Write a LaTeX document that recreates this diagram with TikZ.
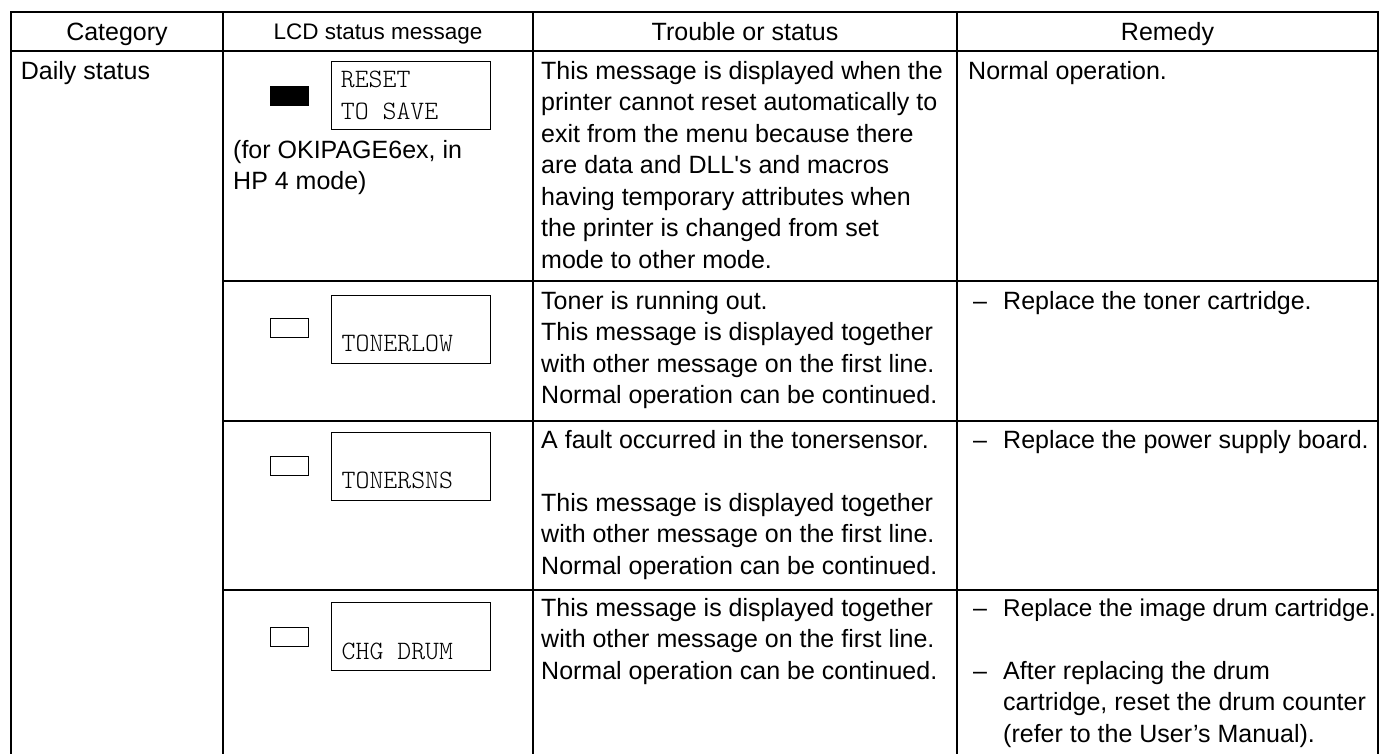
\documentclass[tikz,border=0pt]{standalone}
\usepackage{fontspec}
\setmainfont{Liberation Sans}
\newfontfamily\lcdfont{Latin Modern Mono Light}
\begin{document}
\begin{tikzpicture}[x=1pt,y=-1pt,
  grid/.style={line width=1.3pt},
  frame/.style={line width=2.6pt},
  txt/.style={anchor=north west, inner sep=0pt, align=left, font=\fontsize{25pt}{31.5pt}\selectfont},
  head/.style={anchor=base, inner sep=0pt, font=\fontsize{25pt}{30pt}\selectfont},
  smallhead/.style={anchor=base, inner sep=0pt, font=\fontsize{22.5pt}{27pt}\selectfont},
  mono/.style={anchor=base west, inner sep=0pt, font=\fontsize{26.5pt}{30pt}\selectfont\lcdfont},
  lcdbox/.style={draw, line width=1.3pt, minimum width=159pt, minimum height=68pt, inner sep=0pt, anchor=north west},
  led/.style={draw, line width=1.3pt, minimum width=38pt, minimum height=19pt, inner sep=0pt, anchor=north west},
]
\useasboundingbox (0,0) rectangle (1382,753);

% table rules
\draw[grid] (11,51) -- (1378,51);
\draw[grid] (223,12) -- (223,760);
\draw[grid] (533,12) -- (533,760);
\draw[grid] (957,12) -- (957,760);
\draw[grid] (223,281) -- (1378,281);
\draw[grid] (223,421) -- (1378,421);
\draw[grid] (223,590) -- (1378,590);
\draw[frame] (11,760) -- (11,12) -- (1378,12) -- (1378,760);

% header
\node[head] (hcat) at (117,40.5) {Category};
\node[smallhead] (hlcd) at (378,39.8) {LCD status message};
\node[head] (htr) at (745,40.5) {Trouble or status};
\node[head] (hrem) at (1167.5,40.5) {Remedy};

% category
\node[txt] (cat) at (20.7,56.95) {\strut Daily status};

% row 1
\node[led, fill=black] (led1) at (270,86) {};
\node[lcdbox] (box1) at (331,61) {};
\node[mono] (m1a) at (340.7,87.7) {RESET};
\node[mono] (m1b) at (340.7,119) {TO SAVE};
\node[txt] (lcd1) at (233,135.95) {\strut (for OKIPAGE6ex, in\\ \strut HP 4 mode)};
\node[txt] (tr1) at (541,56.95) {\strut This message is displayed when the\\
\strut printer cannot reset automatically to\\
\strut exit from the menu because there\\
\strut are data and DLL\textquotesingle s and macros\\
\strut having temporary attributes when\\
\strut the printer is changed from set\\
\strut mode to other mode.};
\node[txt] (rem1) at (968,56.95) {\strut Normal operation.};

% row 2
\node[led] (led2) at (270,318) {};
\node[lcdbox] (box2) at (331,295) {};
\node[mono] (m2) at (341.5,351) {TONERLOW};
\node[txt] (tr2) at (541,286.95) {\strut Toner is running out.\\
\strut This message is displayed together\\
\strut with other message on the first line.\\
\strut Normal operation can be continued.};
\node[txt] (d2) at (973,286.95) {\strut –};
\node[txt] (rem2) at (1003,286.95) {\strut Replace the toner cartridge.};

% row 3
\node[led] (led3) at (270,456) {};
\node[lcdbox] (box3) at (331,432) {};
\node[mono] (m3) at (341.5,488) {TONERSNS};
\node[txt] (tr3) at (541,425.95) {\strut A fault occurred in the tonersensor.\\
\strut \\
\strut This message is displayed together\\
\strut with other message on the first line.\\
\strut Normal operation can be continued.};
\node[txt] (d3) at (973,425.95) {\strut –};
\node[txt] (rem3) at (1003,425.95) {\strut Replace the power supply board.};

% row 4
\node[led] (led4) at (270,627) {};
\node[lcdbox] (box4) at (331,602) {};
\node[mono] (m4) at (341.5,659) {CHG DRUM};
\node[txt] (tr4) at (541,593.95) {\strut This message is displayed together\\
\strut with other message on the first line.\\
\strut Normal operation can be continued.};
\node[txt] (d4a) at (973,593.95) {\strut –};
\node[txt, font=\fontsize{24.3pt}{31.5pt}\selectfont] (rem4a) at (1003,593.95) {\strut Replace the image drum cartridge.};
\node[txt] (d4b) at (973,656.95) {\strut –};
\node[txt] (rem4b) at (1003,656.95) {\strut After replacing the drum\\
\strut cartridge, reset the drum counter\\
\strut (refer to the User’s Manual).};
\end{tikzpicture}
\end{document}
